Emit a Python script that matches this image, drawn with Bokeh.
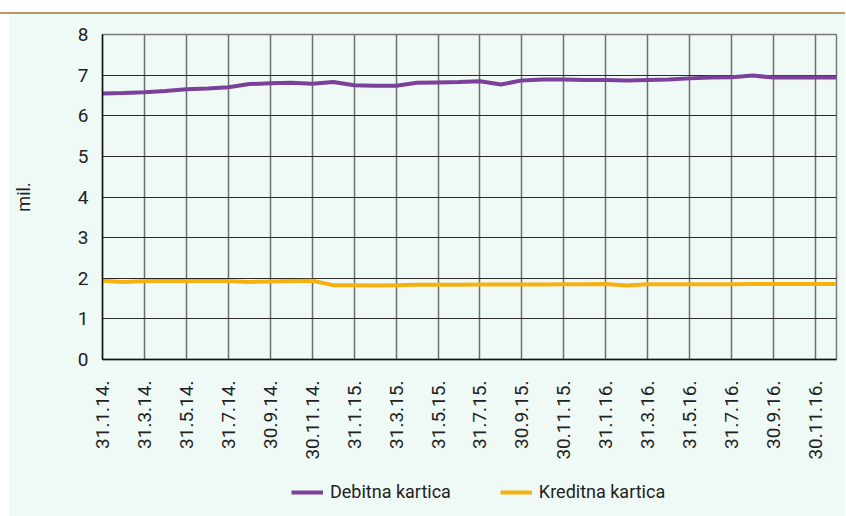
from bokeh.plotting import figure
from bokeh.models import Range1d, FixedTicker, Legend, LegendItem, InlineStyleSheet
from bokeh.layouts import column
from bokeh.embed import file_html
from bokeh.resources import INLINE

# month-end dates, 31.1.14 .. 31.12.16 (36 months)
months = list(range(36))
tick_labels = ["31.1.14.", "31.3.14.", "31.5.14.", "31.7.14.", "30.9.14.", "30.11.14.",
               "31.1.15.", "31.3.15.", "31.5.15.", "31.7.15.", "30.9.15.", "30.11.15.",
               "31.1.16.", "31.3.16.", "31.5.16.", "31.7.16.", "30.9.16.", "30.11.16."]
debitna = [6.55, 6.56, 6.58, 6.61, 6.65, 6.67, 6.70, 6.78, 6.80, 6.81, 6.79, 6.83,
           6.75, 6.74, 6.74, 6.81, 6.82, 6.83, 6.85, 6.77, 6.87, 6.89, 6.89, 6.88,
           6.88, 6.87, 6.88, 6.89, 6.92, 6.94, 6.95, 6.99, 6.94, 6.94, 6.94, 6.94]
kreditna = [1.94, 1.91, 1.93, 1.93, 1.93, 1.93, 1.93, 1.91, 1.92, 1.93, 1.94, 1.83,
            1.83, 1.82, 1.83, 1.84, 1.84, 1.84, 1.845, 1.845, 1.845, 1.845, 1.85, 1.85,
            1.86, 1.82, 1.855, 1.855, 1.855, 1.855, 1.855, 1.86, 1.86, 1.86, 1.86, 1.86]
series_names = ["Debitna kartica", "Kreditna kartica"]

FONT = "Roboto"
BG = "#eff9f6"
PURPLE = "#7b3f9c"
YELLOW = "#f6b110"

top_css = (":host { background: "
           "linear-gradient(to bottom, #ffffff 0px, #ffffff 12px, #b8976a 12px, #b8976a 14px, rgba(0,0,0,0) 14px), "
           "linear-gradient(to right, #ffffff 0px, #ffffff 9px, #eff9f6 9px, #eff9f6 100%); }")
side_css = ":host { background: linear-gradient(to right, #ffffff 0px, #ffffff 9px, #eff9f6 9px, #eff9f6 100%); }"

p = figure(frame_width=734, frame_height=325, output_backend="svg", toolbar_location=None,
           x_range=Range1d(0, 35), y_range=Range1d(0, 8),
           min_border_left=102, min_border_right=9, min_border_top=34, min_border_bottom=94)
p.background_fill_color = BG
p.border_fill_alpha = 0
p.stylesheets = [InlineStyleSheet(css=top_css)]
p.outline_line_color = "#7a7a7a"
p.outline_line_width = 1.5

p.line(months, debitna, line_color=PURPLE, line_width=4)
p.line(months, kreditna, line_color=YELLOW, line_width=4)

tick_pos = list(range(0, 35, 2))
p.xaxis.ticker = FixedTicker(ticks=tick_pos)
p.xaxis.major_label_overrides = {t: l for t, l in zip(tick_pos, tick_labels)}
p.xaxis.major_label_orientation = 3.14159265 / 2
p.yaxis.ticker = FixedTicker(ticks=list(range(0, 9)))

for ax in (p.xaxis, p.yaxis):
    ax.major_tick_line_color = None
    ax.minor_tick_line_color = None
    ax.axis_line_color = "#111111"
    ax.axis_line_width = 1.5
    ax.major_label_text_font = FONT
    ax.major_label_text_font_size = "19px"
    ax.major_label_text_color = "#222222"
p.xaxis.major_label_standoff = 15
p.yaxis.major_label_standoff = 8

p.yaxis.axis_label = "mil."
p.yaxis.axis_label_text_font = FONT
p.yaxis.axis_label_text_font_size = "18px"
p.yaxis.axis_label_text_font_style = "normal"
p.yaxis.axis_label_text_color = "#222222"
p.yaxis.axis_label_standoff = 41

p.xgrid.ticker = FixedTicker(ticks=tick_pos)
p.xgrid.grid_line_color = "#6e6e6e"
p.xgrid.grid_line_width = 1.5
p.ygrid.ticker = FixedTicker(ticks=list(range(0, 9)))
p.ygrid.grid_line_color = "#2a2a2a"
p.ygrid.grid_line_width = 1.2

# legend strip: same series, view range chosen so only the legend shows
leg = figure(frame_width=845, frame_height=62, output_backend="svg", toolbar_location=None,
             x_range=Range1d(0, 35), y_range=Range1d(100, 101),
             min_border_left=0, min_border_right=0, min_border_top=0, min_border_bottom=0)
leg.background_fill_alpha = 0
leg.border_fill_alpha = 0
leg.stylesheets = [InlineStyleSheet(css=side_css)]
leg.outline_line_color = None
leg.axis.visible = False
leg.grid.visible = False
l1 = leg.line(months, debitna, line_color=PURPLE, line_width=4)
l2 = leg.line(months, kreditna, line_color=YELLOW, line_width=4)

legend = Legend(items=[LegendItem(label=series_names[0], renderers=[l1]),
                       LegendItem(label=series_names[1], renderers=[l2])],
                orientation="horizontal", location=(281, 12))
legend.label_text_font = FONT
legend.label_text_font_size = "18px"
legend.label_text_color = "#222222"
legend.glyph_width = 32
legend.label_standoff = 7
legend.spacing = 49
legend.padding = 10
legend.margin = 0
legend.background_fill_alpha = 0
legend.border_line_alpha = 0
leg.add_layout(legend, "center")

layout = column(p, leg, spacing=0)
layout.stylesheets = [InlineStyleSheet(css=side_css)]
open("out.html", "w").write(file_html(layout, INLINE))
